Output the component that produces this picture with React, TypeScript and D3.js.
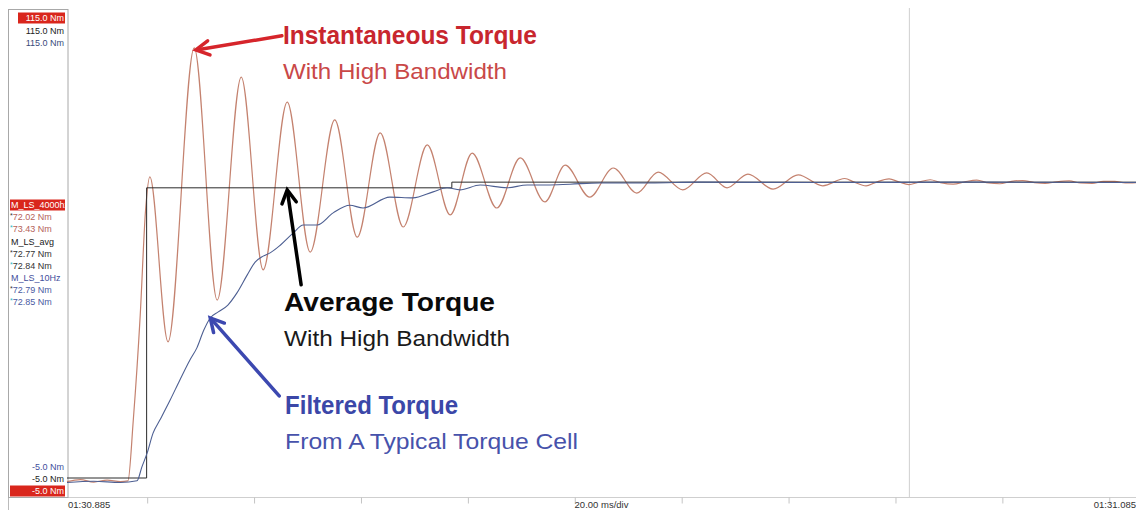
import * as d3 from "d3";
import { useEffect, useRef } from "react";

// time in ms after 01:30.885, torque in Nm
const instantaneous: [number, number][] = [
  [0, -1.2], [2.5, -0.7], [5, -1.3], [7.5, -0.8], [10, -1.2], [11.4, -1.0],
  [12.4, 14], [13.7, 40], [14.7, 66], [15.5, 74.2], [18.9, 33.4],
  [23.8, 106.1], [28.1, 43.7], [32.6, 98.9], [36.7, 51.2], [41.2, 92.7],
  [45.5, 55.6], [50.1, 88.3], [54.3, 59.3], [58.6, 85.1], [62.9, 61.8],
  [67.4, 82.1], [71.7, 64.8], [75.8, 80.1], [80.4, 66.5], [84.8, 78.9],
  [89.4, 68.0], [93.2, 77.1], [97.8, 69.2], [102.2, 76.4], [106.6, 70.2],
  [110.6, 75.4], [115.2, 71.0], [119.7, 75.2], [123.5, 71.5], [127.4, 74.9],
  [132.1, 71.2], [136.8, 74.7], [141.4, 72.0], [145.5, 73.8], [147.3, 72.9],
  [149.5, 72.0], [151.2, 72.8], [153.8, 73.7], [155.6, 73.0], [157.5, 72.3],
  [159.3, 72.9], [161.5, 73.5], [163.4, 72.8], [165.8, 72.4], [168.0, 73.0],
  [170.2, 73.4], [172.4, 72.7], [174.5, 72.5], [176.7, 73.1], [178.8, 73.3],
  [181.0, 72.8], [183.0, 72.6], [185.2, 73.0], [187.5, 73.2], [189.6, 72.7],
  [191.8, 72.6], [193.9, 73.1], [196.0, 73.1], [198.0, 72.7], [200, 72.8],
];

const average: [number, number][] = [
  [0, -0.3], [14.9, 71.5], [72.0, 72.9], [200, 72.9],
];

const filtered: [number, number][] = [
  [0, -1.4], [5, -1.1], [10, -1.4], [13.1, -1.0], [14.0, 2.4], [15.0, 5.9],
  [16.1, 10.8], [17.4, 14.1], [19.3, 19.0], [21.1, 23.9], [23.0, 28.9],
  [24.3, 31.9], [25.6, 36.3], [26.8, 39.3], [28.3, 40.8], [30.1, 42.5],
  [31.8, 45.5], [33.7, 49.9], [35.2, 53.1], [36.7, 54.6], [38.0, 55.4],
  [39.9, 57.3], [42.3, 60.3], [44.2, 62.3], [46.8, 62.3], [49.8, 65.3],
  [52.9, 67.2], [55.4, 66.5], [60.4, 69.2], [64.7, 69.0], [68.5, 70.5],
  [71.1, 71.5], [73.5, 71.0], [77.3, 72.2], [82.3, 71.5], [86.1, 72.2],
  [89.8, 72.2], [94.1, 72.4], [99.7, 72.7], [109.1, 72.7], [118.4, 72.9],
  [140, 72.8], [170, 72.9], [200, 72.8],
];

const divTicks = [15, 35, 55, 75, 95, 115, 135, 155, 175, 195];
const cursorTime = 157.6;

const timeLabels = ["01:30.885", "20.00 ms/div", "01:31.085"];
const topScaleLabels = ["115.0 Nm", "115.0 Nm", "115.0 Nm"];
const bottomScaleLabels = ["-5.0 Nm", "-5.0 Nm", "-5.0 Nm"];

const channelNames = ["M_LS_4000hz", "M_LS_avg", "M_LS_10Hz"];
const channelReadouts = [
  ["72.02 Nm", "73.43 Nm"],
  ["72.77 Nm", "72.84 Nm"],
  ["72.79 Nm", "72.85 Nm"],
];

// annotation anchors in data units: [time, torque]
const annotations = [
  { title: "Instantaneous Torque", sub: "With High Bandwidth", color: "#c8262e", subColor: "#c94848",
    at: [40.4, 107.1], titleW: 254, subW: 224, tip: [24.1, 105.6], tail: [40.2, 109.1], arrow: "#d6252b" },
  { title: "Average Torque", sub: "With High Bandwidth", color: "#0a0a0a", subColor: "#1a1a1a",
    at: [40.6, 41.0], titleW: 211, subW: 226, tip: [41.2, 71.0], tail: [43.8, 47.5], arrow: "#000000" },
  { title: "Filtered Torque", sub: "From A Typical Torque Cell", color: "#3b47a8", subColor: "#4752ab",
    at: [40.8, 15.5], titleW: 173, subW: 293, tip: [26.8, 39.3], tail: [39.7, 20.0], arrow: "#3c48b0" },
];

export default function App() {
  const svgRef = useRef<SVGSVGElement>(null);

  useEffect(() => {
    if (!svgRef.current) return;
    const svg = d3.select(svgRef.current);
    svg.selectAll("*").remove();

    const x = d3.scaleLinear().domain([0, 200]).range([67, 1136]);
    const y = d3.scaleLinear().domain([-5, 115]).range([497, 12]);
    const small = "'Liberation Sans', Arial, sans-serif";
    const big = "'Liberation Sans', Arial, sans-serif";

    svg.append("rect").attr("width", 1136).attr("height", 510).attr("fill", "#fff");

    // cursor
    svg.append("line")
      .attr("x1", x(cursorTime)).attr("x2", x(cursorTime))
      .attr("y1", 8).attr("y2", 497)
      .attr("stroke", "#cfcfcf").attr("stroke-width", 1);

    // time axis
    svg.append("line")
      .attr("x1", 8).attr("x2", 1136).attr("y1", 497.5).attr("y2", 497.5)
      .attr("stroke", "#cfcfcf");
    svg.append("line")
      .attr("x1", 8.5).attr("x2", 8.5).attr("y1", 497).attr("y2", 510)
      .attr("stroke", "#bbb");
    const ax = svg.append("g")
      .attr("transform", "translate(0,497.5)")
      .call(d3.axisBottom(x).tickValues(divTicks).tickSize(6).tickFormat(() => ""));
    ax.select(".domain").remove();
    ax.selectAll("line").attr("stroke", "#c4c4c4");

    const tl = svg.append("g").style("font-family", small).style("font-size", "9.5px").attr("fill", "#333");
    tl.append("text").attr("x", 68).attr("y", 508).text(timeLabels[0]);
    tl.append("text").attr("x", x(100)).attr("y", 508).attr("text-anchor", "middle").text(timeLabels[1]);
    tl.append("text").attr("x", 1136).attr("y", 508).attr("text-anchor", "end").text(timeLabels[2]);

    // left panel
    svg.append("rect")
      .attr("x", 8.5).attr("y", 9.5).attr("width", 59.5).attr("height", 488)
      .attr("fill", "#fff").attr("stroke", "#a8a8a8");

    const chanColors = ["#d9261c", "#1a1a1a", "#3f4e9c"];
    const readColors = ["#b4625a", "#333", "#4a5aa2"];
    const panel = svg.append("g").style("font-family", small).style("font-size", "9px");

    // top scale labels: red (boxed), black, blue
    [0, 1, 2].forEach((c, i) => {
      const yy = 21 + i * 12.5;
      if (i === 0) {
        panel.append("rect").attr("x", 18).attr("y", yy - 8.5).attr("width", 47).attr("height", 11).attr("fill", chanColors[0]);
      }
      panel.append("text").attr("x", 64).attr("y", yy).attr("text-anchor", "end")
        .attr("fill", i === 0 ? "#fff" : c === 2 ? "#3a4a7a" : "#222").text(topScaleLabels[i]);
    });
    // bottom scale labels: blue, black, red (boxed)
    [2, 1, 0].forEach((c, i) => {
      const yy = 470 + i * 12;
      if (c === 0) {
        panel.append("rect").attr("x", 10).attr("y", yy - 8.5).attr("width", 55).attr("height", 11).attr("fill", chanColors[0]);
      }
      panel.append("text").attr("x", 64).attr("y", yy).attr("text-anchor", "end")
        .attr("fill", c === 0 ? "#fff" : c === 2 ? "#3f4e9c" : "#222").text(bottomScaleLabels[i]);
    });

    // channel legend with cursor readouts
    const defs = svg.append("defs");
    defs.append("clipPath").attr("id", "panel-clip").append("rect")
      .attr("x", 9).attr("y", 10).attr("width", 56).attr("height", 486);
    const leg = panel.append("g").attr("clip-path", "url(#panel-clip)");
    channelNames.forEach((name, c) => {
      const y0 = 208 + c * 36.5;
      if (c === 0) {
        leg.append("rect").attr("x", 10).attr("y", y0 - 8.5).attr("width", 56).attr("height", 11).attr("fill", chanColors[0]);
      }
      leg.append("text").attr("x", 11).attr("y", y0)
        .attr("fill", c === 0 ? "#fff" : chanColors[c]).text(name);
      channelReadouts[c].forEach((r, k) => {
        const t = leg.append("text").attr("x", 10).attr("y", y0 + 12 + k * 12);
        t.append("tspan").attr("fill", k === 0 ? "#333" : "#2bb8c8").attr("font-size", "7px").attr("dy", -2).text("*");
        t.append("tspan").attr("fill", readColors[c]).attr("dy", 2).text(r);
      });
    });

    // traces
    const line = d3.line<[number, number]>().x((d) => x(d[0])).y((d) => y(d[1]));
    const plot = svg.append("g");
    plot.append("path").datum(instantaneous)
      .attr("fill", "none").attr("stroke", "#c4826f").attr("stroke-width", 1.2)
      .attr("d", line.curve(d3.curveMonotoneX));
    plot.append("path").datum(average)
      .attr("fill", "none").attr("stroke", "#2a2a2a").attr("stroke-width", 1)
      .attr("d", line.curve(d3.curveStepAfter));
    plot.append("path").datum(filtered)
      .attr("fill", "none").attr("stroke", "#4d5f92").attr("stroke-width", 1.1)
      .attr("d", line.curve(d3.curveMonotoneX));

    // annotations
    annotations.forEach((a) => {
      const tx = x(a.tip[0]), ty = y(a.tip[1]);
      const sx = x(a.tail[0]), sy = y(a.tail[1]);
      const ang = Math.atan2(sy - ty, sx - tx);
      const head = 15, spread = 0.5;
      svg.append("line").attr("x1", sx).attr("y1", sy).attr("x2", tx + Math.cos(ang) * 2).attr("y2", ty + Math.sin(ang) * 2)
        .attr("stroke", a.arrow).attr("stroke-width", 3.5).attr("stroke-linecap", "round");
      svg.append("path")
        .attr("d", `M${tx + Math.cos(ang + spread) * head},${ty + Math.sin(ang + spread) * head}L${tx},${ty}L${tx + Math.cos(ang - spread) * head},${ty + Math.sin(ang - spread) * head}`)
        .attr("fill", "none").attr("stroke", a.arrow).attr("stroke-width", 3.5)
        .attr("stroke-linejoin", "miter").attr("stroke-linecap", "round");

      const ax0 = x(a.at[0]), ay0 = y(a.at[1]);
      svg.append("text").attr("x", ax0).attr("y", ay0)
        .style("font-family", big).style("font-size", "25px").style("font-weight", "bold")
        .attr("fill", a.color).attr("textLength", a.titleW).attr("lengthAdjust", "spacingAndGlyphs")
        .text(a.title);
      svg.append("text").attr("x", ax0).attr("y", ay0 + 35)
        .style("font-family", big).style("font-size", "22px")
        .attr("fill", a.subColor).attr("textLength", a.subW).attr("lengthAdjust", "spacingAndGlyphs")
        .text(a.sub);
    });
  }, []);

  return (
    <div style={{ position: "fixed", left: 0, top: 0 }}>
      <svg ref={svgRef} width={1136} height={510} style={{ display: "block" }} />
    </div>
  );
}
